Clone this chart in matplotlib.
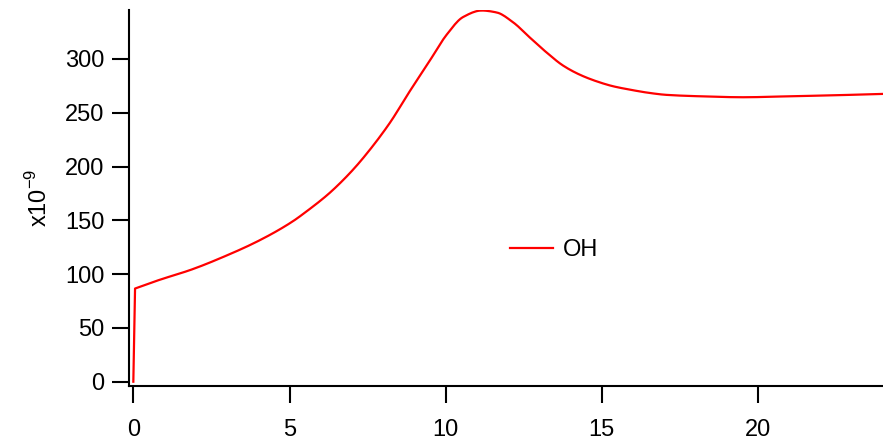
"""
OH concentration time series, Igor-style axes
"""

# IMPORTs
import numpy as np
import matplotlib.pyplot as plt

# DATA
time = [0.0, 0.055, 0.80, 1.87, 2.93, 4.0, 5.07, 5.6, 6.13, 6.4, 7.0, 7.47,
        8.21, 8.85, 9.49, 10.03, 10.56, 11.15, 11.63, 12.16, 12.69, 13.23,
        13.76, 14.29, 14.83, 15.36, 15.89, 16.5, 17.07, 18.13, 19.52, 21.01,
        22.4, 24.0]
oh = [0.0, 86.6, 94.3, 104.3, 116.6, 130.8, 148.4, 159.5, 171.6, 178.5, 196.0,
      211.9, 240.5, 270.0, 298.4, 322.5, 339.0, 345.0, 343.2, 334.0, 320.0,
      306.0, 293.8, 285.4, 279.2, 274.6, 271.5, 268.5, 266.6, 265.3, 264.4,
      265.3, 266.2, 267.5]
series_name = 'OH'
x_ticks = [0, 5, 10, 15, 20]
y_ticks = [0, 50, 100, 150, 200, 250, 300]

plt.rcParams['font.family'] = ['Liberation Sans', 'DejaVu Sans']
plt.rcParams['mathtext.fontset'] = 'custom'
plt.rcParams['mathtext.rm'] = 'Liberation Sans'


def pchip(x, y, n=10):
    """
    Monotone cubic (Fritsch-Carlson) densification of the read points.
    The first segment (the sharp initial jump) stays straight.
    """
    x = np.asarray(x, dtype='float64')
    y = np.asarray(y, dtype='float64')
    h = np.diff(x)
    d = np.diff(y) / h
    m = np.zeros_like(y)
    for k in range(1, len(x) - 1):
        if d[k - 1] * d[k] > 0:
            w1 = 2 * h[k] + h[k - 1]
            w2 = h[k] + 2 * h[k - 1]
            m[k] = (w1 + w2) / (w1 / d[k - 1] + w2 / d[k])
    m[-1] = d[-1]
    m[1] = d[1]  # start of smooth part
    xs, ys = [x[0], x[1]], [y[0], y[1]]
    for k in range(1, len(x) - 1):
        t = np.linspace(0, 1, n + 1)[1:]
        h00 = 2 * t**3 - 3 * t**2 + 1
        h10 = t**3 - 2 * t**2 + t
        h01 = -2 * t**3 + 3 * t**2
        h11 = t**3 - t**2
        xs.extend(x[k] + t * h[k])
        ys.extend(h00 * y[k] + h10 * h[k] * m[k] + h01 * y[k + 1] + h11 * h[k] * m[k + 1])
    return np.array(xs), np.array(ys)


fig = plt.figure(figsize=(8.83, 4.42), dpi=100)
ax = fig.add_axes([0.1464, 0.1274, 0.8536, 0.8500])

xs, ys = pchip(time, oh)
ax.plot(xs, ys, color='#ff0000', linewidth=1.6, label=series_name)

ax.set_xlim(-0.13, 24.0)
ax.set_ylim(-3.7, 345.5)
ax.set_xticks(x_ticks)
ax.set_yticks(y_ticks)

# AXES style
for side in ['top', 'right']:
    ax.spines[side].set_visible(False)
for side in ['left', 'bottom']:
    ax.spines[side].set_linewidth(1.5)
ax.tick_params(direction='out', length=12, width=1.5, labelsize=17)
ax.tick_params(axis='x', pad=12)
ax.tick_params(axis='y', pad=6)

ax.set_ylabel(r'x10$^{\mathregular{-9}}$', fontsize=17)
ax.yaxis.set_label_coords(-0.102, 0.5)

ax.legend(loc='center left', bbox_to_anchor=(0.477, 0.361), frameon=False,
          fontsize=17, handlelength=1.8, handletextpad=0.45, borderpad=0.4)

fig.savefig('out.png', dpi=100)
plt.close(fig)
